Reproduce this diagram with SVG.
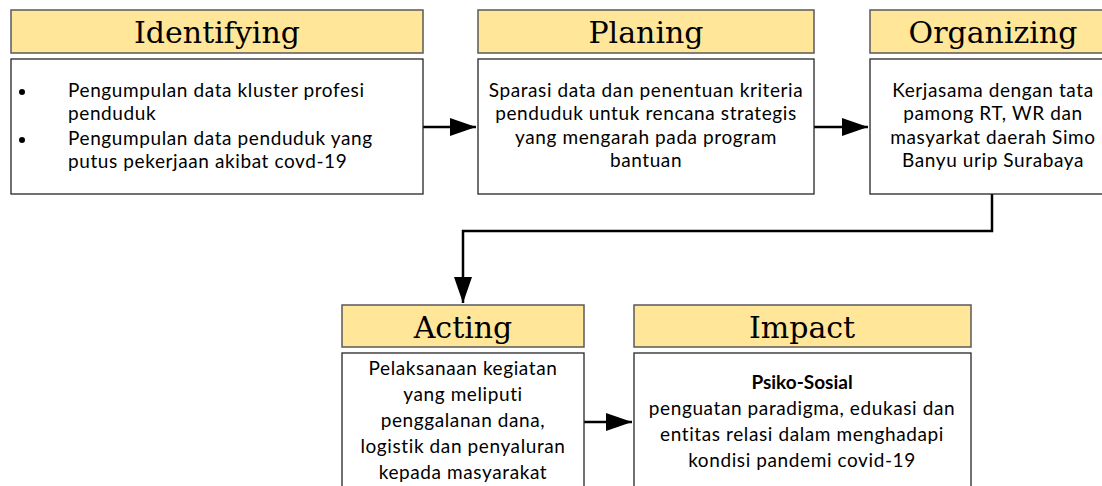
<svg xmlns="http://www.w3.org/2000/svg" width="1102" height="486" viewBox="0 0 1102 486">
<defs>
<style>
.hdr{fill:#FFE699;stroke:#595959;stroke-width:1.5}
.body{fill:#fff;stroke:#262626;stroke-width:1.3}
.ht{font-family:"DejaVu Serif","Liberation Serif",serif;font-size:30px;fill:#000;text-anchor:middle}
.bt{font-family:Lato,"Liberation Sans",sans-serif;font-size:19px;letter-spacing:0.6px;fill:#000}
.c{text-anchor:middle}
.b{font-weight:bold;letter-spacing:0}
.con{fill:none;stroke:#000;stroke-width:2.5}
</style>
<marker id="arr" viewBox="0 0 26 18" refX="26" refY="9" markerWidth="26" markerHeight="18" markerUnits="userSpaceOnUse" orient="auto">
<path d="M0,0 L26,9 L0,18 Z" fill="#000"/>
</marker>
</defs>
<g id="connectors">
<path class="con" d="M423,127 H476" marker-end="url(#arr)"/>
<path class="con" d="M814,127 H868" marker-end="url(#arr)"/>
<path class="con" d="M992,194 V231 H463 V303" marker-end="url(#arr)"/>
<path class="con" d="M584,422 H632" marker-end="url(#arr)"/>
</g>
<g id="identifying">
<rect class="hdr" x="11" y="10" width="412" height="43"/>
<text class="ht" x="217" y="43">Identifying</text>
<rect class="body" x="11" y="59" width="412" height="135"/>
<circle cx="22" cy="92" r="3"/>
<circle cx="22" cy="140" r="3"/>
<text class="bt" x="68" y="97">Pengumpulan data kluster profesi</text>
<text class="bt" x="68" y="120">penduduk</text>
<text class="bt" x="68" y="145">Pengumpulan data penduduk yang</text>
<text class="bt" x="68" y="168">putus pekerjaan akibat covd-19</text>
</g>
<g id="planing">
<rect class="hdr" x="478" y="10" width="336" height="43"/>
<text class="ht" x="646" y="43">Planing</text>
<rect class="body" x="478" y="59" width="336" height="135"/>
<text class="bt c" x="646" y="97">Sparasi data dan penentuan kriteria</text>
<text class="bt c" x="646" y="120">penduduk untuk rencana strategis</text>
<text class="bt c" x="646" y="144">yang mengarah pada program</text>
<text class="bt c" x="646" y="167">bantuan</text>
</g>
<g id="organizing">
<rect class="hdr" x="870" y="10" width="246" height="43"/>
<text class="ht" x="993" y="43">Organizing</text>
<rect class="body" x="870" y="59" width="246" height="135"/>
<text class="bt c" x="993" y="97">Kerjasama dengan tata</text>
<text class="bt c" x="993" y="120">pamong RT, WR dan</text>
<text class="bt c" x="993" y="144">masyarkat daerah Simo</text>
<text class="bt c" x="993" y="167">Banyu urip Surabaya</text>
</g>
<g id="acting">
<rect class="hdr" x="342" y="305" width="242" height="42"/>
<text class="ht" x="463" y="338">Acting</text>
<rect class="body" x="342" y="353" width="242" height="140"/>
<text class="bt c" x="463" y="375">Pelaksanaan kegiatan</text>
<text class="bt c" x="463" y="401">yang meliputi</text>
<text class="bt c" x="463" y="427">penggalanan dana,</text>
<text class="bt c" x="463" y="453">logistik dan penyaluran</text>
<text class="bt c" x="463" y="479">kepada masyarakat</text>
</g>
<g id="impact">
<rect class="hdr" x="634" y="305" width="337" height="42"/>
<text class="ht" x="802" y="338">Impact</text>
<rect class="body" x="634" y="353" width="337" height="140"/>
<text class="bt c b" x="802" y="389">Psiko-Sosial</text>
<text class="bt c" x="802" y="415">penguatan paradigma, edukasi dan</text>
<text class="bt c" x="802" y="441">entitas relasi dalam menghadapi</text>
<text class="bt c" x="802" y="467">kondisi pandemi covid-19</text>
</g>
</svg>
